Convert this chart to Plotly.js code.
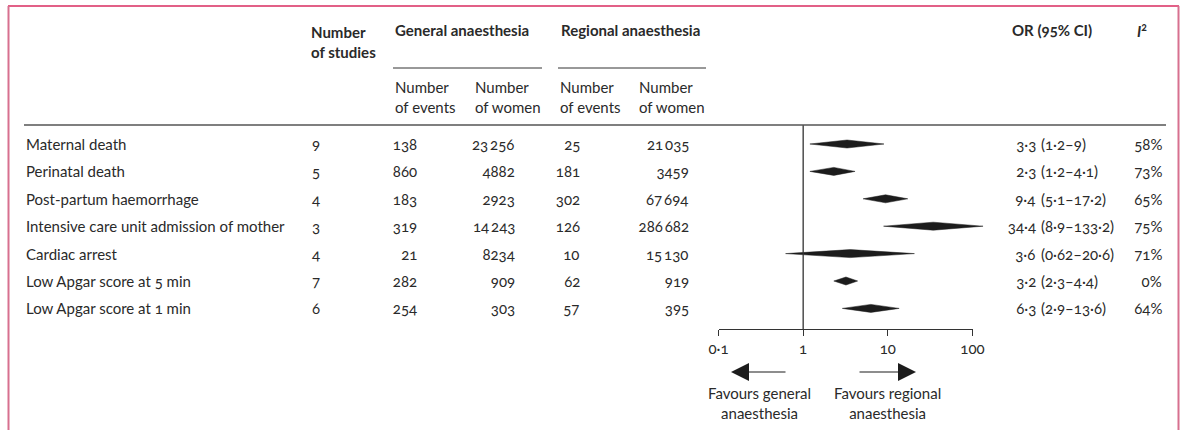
<!DOCTYPE html>
<html>
<head>
<meta charset="utf-8">
<script src="https://cdn.plot.ly/plotly-3.0.1.min.js"></script>
<style>
  html, body { margin: 0; padding: 0; background: #fff; }
  .main-svg text { font-feature-settings: "onum" 1; font-variant-numeric: oldstyle-nums; }
</style>
</head>
<body>
<div id="chart" style="width:1184px;height:430px;"></div>
<script>
// ---------------- data ----------------
const outcomes = [
  "Maternal death",
  "Perinatal death",
  "Post-partum haemorrhage",
  "Intensive care unit admission of mother",
  "Cardiac arrest",
  "Low Apgar score at 5 min",
  "Low Apgar score at 1 min"
];
const nStudies = [9, 5, 4, 3, 4, 7, 6];
const gaEvents = [138, 860, 183, 319, 21, 282, 254];
const gaWomen  = [23256, 4882, 2923, 14243, 8234, 909, 303];
const raEvents = [25, 181, 302, 126, 10, 62, 57];
const raWomen  = [21035, 3459, 67694, 286682, 15130, 919, 395];
const orEst    = [3.3, 2.3, 9.4, 34.4, 3.6, 3.2, 6.3];
const ciLow    = [1.2, 1.2, 5.1, 8.9, 0.62, 2.3, 2.9];
const ciHigh   = [9, 4.1, 17.2, 133.2, 20.6, 4.4, 13.6];
const iSquared = [58, 73, 65, 75, 71, 0, 64];
const tickVals = [0.1, 1, 10, 100];
const tickText = ["0·1", "1", "10", "100"];

// ---------------- helpers ----------------
const W = 1184, H = 430;
const px = x => x / W;          // pixel -> paper x
const py = y => 1 - y / H;      // pixel -> paper y
const FONT = "Lato, 'Open Sans', sans-serif";
const FS = 15;
const TXT = "#2a2a2a";
const dec = v => String(v).replace(".", "·");
const grp = n => n >= 10000 ? String(n).replace(/(\d{3})$/, "\u2009$1") : String(n);

// row geometry
const rowTop = 144, rowStep = 27.4, ruleY = 125, axisY = 329;
const yTop = (ruleY - rowTop) / rowStep;
const yBot = (axisY - rowTop) / rowStep;
const halfH = 4 / rowStep;

// diamonds built from CI data
const dx = [], dy = [];
outcomes.forEach((_, i) => {
  dx.push(ciLow[i], orEst[i], ciHigh[i], orEst[i], ciLow[i], null);
  dy.push(i, i - halfH, i, i + halfH, i, null);
});

const traces = [
  { x: dx, y: dy, xaxis: "x2", yaxis: "y", type: "scatter", mode: "lines",
    fill: "toself", fillcolor: "#1c1c1c", line: { color: "#1c1c1c", width: 0.5 },
    connectgaps: false, hoverinfo: "skip", showlegend: false },
  { x: [1, 1], y: [yTop, yBot], xaxis: "x2", yaxis: "y", type: "scatter", mode: "lines",
    line: { color: "#333", width: 1.3 }, hoverinfo: "skip", showlegend: false },
  // invisible carrier so the visible log axis subplot is drawn
  { x: tickVals, y: tickVals.map(() => yBot), xaxis: "x", yaxis: "y", type: "scatter",
    mode: "markers", marker: { opacity: 0, size: 1 }, hoverinfo: "skip", showlegend: false }
];

// ---------------- annotations ----------------
const ann = [];
function t(text, x, y, xanchor, opts = {}) {
  ann.push(Object.assign({
    text, x: px(x), y, xref: "paper", yref: "y", xanchor, yanchor: "middle",
    showarrow: false, align: xanchor === "right" ? "right" : "left",
    font: { family: FONT, size: FS, color: TXT }
  }, opts));
}
outcomes.forEach((o, i) => {
  t(o, 24, i, "left");
  t(String(nStudies[i]), 310, i, "left");
  t(grp(gaEvents[i]), 419, i, "right");
  t(grp(gaWomen[i]), 517, i, "right");
  t(grp(raEvents[i]), 582, i, "right");
  t(grp(raWomen[i]), 691, i, "right");
  t(dec(orEst[i]), 1038, i, "right");
  t("(" + dec(ciLow[i]) + "–" + dec(ciHigh[i]) + ")", 1039, i, "left");
  t(iSquared[i] + "%", 1164, i, "right");
});

function h(text, x, y, opts = {}) {
  ann.push(Object.assign({
    text, x: px(x), y: py(y), xref: "paper", yref: "paper",
    xanchor: "left", yanchor: "middle", showarrow: false, align: "left",
    font: { family: FONT, size: FS, color: TXT }
  }, opts));
}
h("<b>Number<br>of studies</b>", 309, 42);
h("<b>General anaesthesia</b>", 393, 30);
h("<b>Regional anaesthesia</b>", 559, 30);
h("<b>OR (95% CI)</b>", 1010, 30);
h("<b><i>I</i><sup>2</sup></b>", 1135, 30);
h("Number<br>of events", 393, 97);
h("Number<br>of women", 473, 97);
h("Number<br>of events", 558, 97);
h("Number<br>of women", 637, 97);

// favours labels & arrows
h("Favours general<br>anaesthesia", 759, 403, { xanchor: "center", align: "center" });
h("Favours regional<br>anaesthesia", 887, 403, { xanchor: "center", align: "center" });
ann.push({ x: px(731), y: py(372), xref: "paper", yref: "paper", ax: 56, ay: 0,
  text: "", showarrow: true, arrowhead: 2, arrowsize: 3, arrowwidth: 1.2, arrowcolor: "#1c1c1c" });
ann.push({ x: px(916), y: py(372), xref: "paper", yref: "paper", ax: -58, ay: 0,
  text: "", showarrow: true, arrowhead: 2, arrowsize: 3, arrowwidth: 1.2, arrowcolor: "#1c1c1c" });

// ---------------- shapes ----------------
const shapes = [
  // frame
  { type: "line", xref: "paper", yref: "paper", x0: px(8), x1: px(1179), y0: py(6), y1: py(6),
    line: { color: "#d92b5f", width: 1.3 } },
  { type: "line", xref: "paper", yref: "paper", x0: px(8.5), x1: px(8.5), y0: py(6), y1: 0,
    line: { color: "#d7708f", width: 2 } },
  { type: "line", xref: "paper", yref: "paper", x0: px(1178.5), x1: px(1178.5), y0: py(6), y1: 0,
    line: { color: "#d7708f", width: 2 } },
  // header rule
  { type: "line", xref: "paper", yref: "paper", x0: px(24), x1: px(1166), y0: py(ruleY), y1: py(ruleY),
    line: { color: "#555", width: 1.6 } },
  // group underlines
  { type: "line", xref: "paper", yref: "paper", x0: px(393), x1: px(542), y0: py(68), y1: py(68),
    line: { color: "#333", width: 1 } },
  { type: "line", xref: "paper", yref: "paper", x0: px(558), x1: px(706), y0: py(68), y1: py(68),
    line: { color: "#333", width: 1 } }
];

const layout = {
  width: W, height: H,
  margin: { l: 0, r: 0, t: 0, b: 0, pad: 0 },
  paper_bgcolor: "#fff", plot_bgcolor: "rgba(0,0,0,0)",
  showlegend: false,
  font: { family: FONT, size: FS, color: TXT },
  xaxis: {
    type: "log", range: [-1, 2], domain: [px(718.5), px(972.5)], anchor: "y",
    showgrid: false, zeroline: false, showline: true, linecolor: "#333", linewidth: 1.3,
    ticks: "outside", ticklen: 6, tickwidth: 1.3, tickcolor: "#333",
    tickmode: "array", tickvals: tickVals, ticktext: tickText,
    tickfont: { family: FONT, size: FS, color: TXT }, fixedrange: true
  },
  xaxis2: {
    type: "log", range: [-1.3, 2.4], domain: [px(718.5 - 0.3 * 84.67), px(718.5 + 3.4 * 84.67)],
    anchor: "y", visible: false, fixedrange: true
  },
  yaxis: {
    range: [yBot, yTop], domain: [py(axisY), py(ruleY)], visible: false, fixedrange: true
  },
  annotations: ann,
  shapes: shapes
};

Plotly.newPlot("chart", traces, layout, { displayModeBar: false, staticPlot: true });
</script>
</body>
</html>
